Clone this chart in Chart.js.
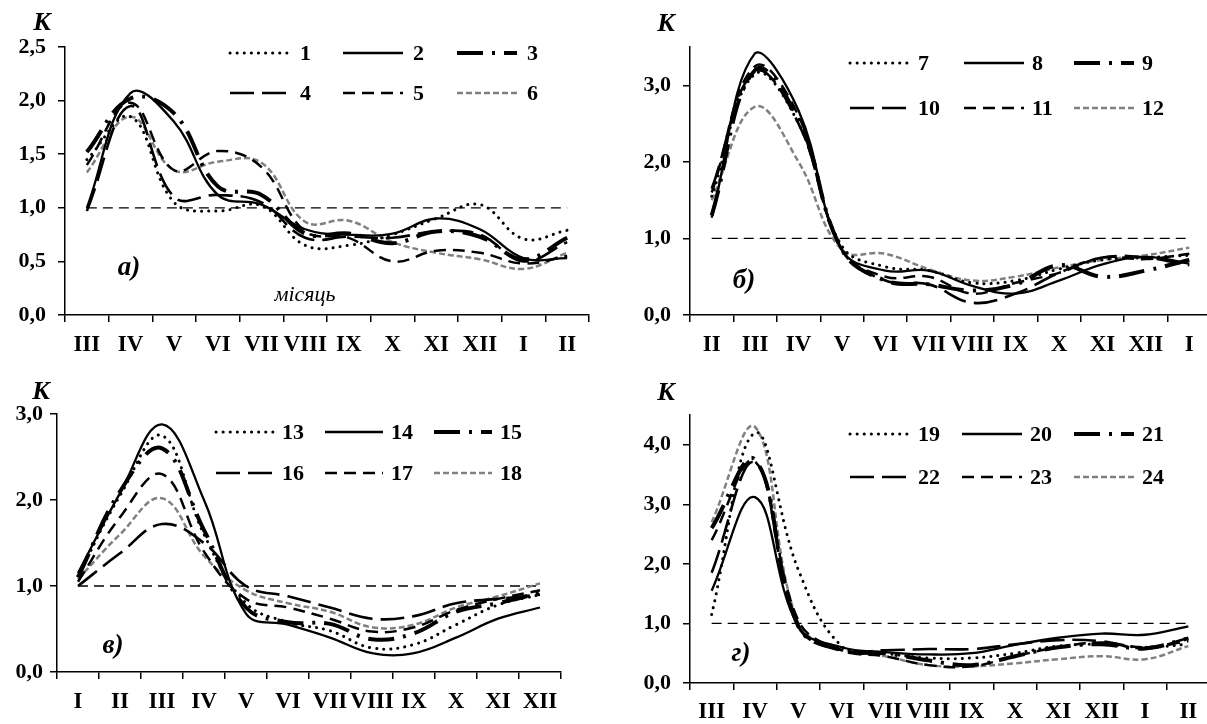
<!DOCTYPE html>
<html>
<head>
<meta charset="utf-8">
<script src="https://cdn.jsdelivr.net/npm/chart.js@4.4.1/dist/chart.umd.min.js"></script>
<style>
body{margin:0;width:1207px;height:724px;overflow:hidden;background:#fff;position:relative;font-family:"Liberation Serif","Times New Roman",serif}
canvas{position:absolute}
.t{position:absolute;font-weight:bold;font-style:italic;font-size:26px;line-height:1;transform:translate(-50%,-50%);white-space:nowrap;color:#000}
.p{font-size:27px}
.m{font-weight:normal;font-size:22px}
</style>
</head>
<body>
<canvas id="chartA" width="600" height="360" style="left:0;top:0"></canvas>
<canvas id="chartB" width="620" height="360" style="left:600px;top:0"></canvas>
<canvas id="chartC" width="600" height="364" style="left:0;top:360px"></canvas>
<canvas id="chartD" width="620" height="364" style="left:600px;top:360px"></canvas>

<div class="t" style="left:42px;top:22px">К</div>
<div class="t" style="left:666px;top:23px">К</div>
<div class="t" style="left:41px;top:391px">К</div>
<div class="t" style="left:666px;top:392px">К</div>
<div class="t p" style="left:129px;top:266px">а)</div>
<div class="t m" style="left:305px;top:294px">місяць</div>
<div class="t p" style="left:744px;top:279px">б)</div>
<div class="t p" style="left:113px;top:644px">в)</div>
<div class="t p" style="left:741px;top:652px">г)</div>

<script>
// months on the x axis of each panel
const monthsA=['III','IV','V','VI','VII','VIII','IX','X','XI','XII','I','II'];
const monthsB=['II','III','IV','V','VI','VII','VIII','IX','X','XI','XII','I'];
const monthsC=['I','II','III','IV','V','VI','VII','VIII','IX','X','XI','XII'];
const monthsD=['III','IV','V','VI','VII','VIII','IX','X','XI','XII','I','II'];

// panel а) series 1..6
const s1=[1.45,1.85,1.05,0.97,1.02,0.65,0.65,0.75,0.90,1.03,0.71,0.79];
const s2=[1.00,2.07,1.80,1.12,1.03,0.80,0.75,0.76,0.90,0.80,0.53,0.53];
const s3=[1.52,2.02,1.88,1.20,1.12,0.76,0.76,0.67,0.78,0.73,0.52,0.72];
const s4=[0.97,1.95,1.10,1.12,1.05,0.72,0.73,0.72,0.78,0.75,0.50,0.68];
const s5=[1.40,1.98,1.35,1.53,1.38,0.78,0.72,0.50,0.60,0.58,0.48,0.55];
const s6=[1.33,1.85,1.35,1.43,1.42,0.87,0.88,0.68,0.58,0.52,0.43,0.58];
// panel б) series 7..12
const s7=[1.55,3.15,2.50,0.90,0.63,0.58,0.42,0.45,0.60,0.72,0.75,0.78];
const s8=[1.27,3.42,2.67,0.85,0.58,0.58,0.38,0.28,0.45,0.66,0.76,0.67];
const s9=[1.30,3.20,2.55,0.85,0.45,0.40,0.32,0.40,0.65,0.50,0.58,0.72];
const s10=[1.65,3.18,2.50,0.85,0.45,0.40,0.16,0.28,0.55,0.75,0.75,0.65];
const s11=[1.60,3.25,2.60,0.85,0.50,0.50,0.28,0.42,0.55,0.75,0.73,0.80];
const s12=[1.50,2.72,2.00,0.85,0.80,0.60,0.45,0.50,0.62,0.72,0.78,0.88];
// panel в) series 13..18
const s13=[1.12,2.05,2.75,1.60,0.80,0.58,0.48,0.28,0.32,0.55,0.78,0.90];
const s14=[1.15,2.08,2.88,2.00,0.68,0.55,0.40,0.22,0.22,0.40,0.62,0.75];
const s15=[1.10,2.10,2.60,1.65,0.75,0.58,0.56,0.38,0.45,0.70,0.80,0.92];
const s16=[1.00,1.38,1.72,1.50,1.00,0.88,0.75,0.62,0.65,0.80,0.85,0.90];
const s17=[1.05,1.80,2.30,1.40,0.85,0.75,0.62,0.47,0.52,0.72,0.85,0.95];
const s18=[1.08,1.60,2.02,1.35,0.95,0.80,0.70,0.52,0.55,0.75,0.88,1.03];
// panel г) series 19..24
const s19=[1.15,4.20,1.90,0.62,0.50,0.42,0.42,0.50,0.62,0.65,0.60,0.65];
const s20=[1.55,3.12,0.95,0.60,0.52,0.48,0.50,0.64,0.76,0.83,0.81,0.95];
const s21=[2.60,3.75,0.95,0.55,0.50,0.38,0.30,0.45,0.60,0.65,0.58,0.75];
const s22=[1.85,3.70,0.95,0.55,0.55,0.57,0.57,0.65,0.72,0.70,0.58,0.75];
const s23=[2.40,3.72,1.05,0.55,0.45,0.30,0.28,0.45,0.60,0.68,0.60,0.70];
const s24=[2.70,4.30,1.00,0.58,0.45,0.30,0.28,0.33,0.40,0.45,0.40,0.62];

const level=1.0; // K = 1 reference line

// line looks, same order in every panel
const looks=[
  {borderColor:'#000',borderWidth:3,borderDash:[0.1,7],borderCapStyle:'round'},
  {borderColor:'#000',borderWidth:2.3,borderDash:[]},
  {borderColor:'#000',borderWidth:4,borderDash:[26,9,3,9]},
  {borderColor:'#000',borderWidth:2.6,borderDash:[24,8]},
  {borderColor:'#000',borderWidth:2.5,borderDash:[12,7]},
  {borderColor:'#808080',borderWidth:2.5,borderDash:[6,3]}
];

const keyPlugin={
  id:'seriesKey',
  afterDraw(chart,args,o){
    const {ctx,chartArea}=chart;
    chart.data.datasets.forEach((ds,i)=>{
      if(i>5) return;
      const x=chartArea.left+o.cols[i%3], y=chartArea.top+o.rows[Math.floor(i/3)];
      ctx.save();
      ctx.strokeStyle=ds.borderColor; ctx.lineWidth=ds.borderWidth;
      ctx.setLineDash(ds.borderDash||[]); ctx.lineCap=ds.borderCapStyle||'butt';
      ctx.beginPath(); ctx.moveTo(x,y); ctx.lineTo(x+o.len,y); ctx.stroke();
      ctx.setLineDash([]);
      ctx.fillStyle='#000'; ctx.font='bold 22px "Liberation Serif"';
      ctx.textBaseline='middle'; ctx.textAlign='left';
      ctx.fillText(ds.label,x+o.gap,y+1);
      ctx.restore();
    });
  }
};

function panel(id,labels,series,names,yMax,box){
  const sets=series.map((d,i)=>Object.assign({label:names[i],data:d,fill:false,pointRadius:0,tension:0.4},looks[i]));
  sets.push({label:'',data:labels.map(()=>level),borderColor:'#000',borderWidth:1.3,borderDash:[10,6],pointRadius:0,fill:false,tension:0});
  const fontX={family:'"Liberation Serif"',size:23,weight:'bold'};
  const fontY={family:'"Liberation Serif"',size:22,weight:'bold'};
  return new Chart(document.getElementById(id),{
    type:'line',
    data:{labels:labels,datasets:sets},
    plugins:[keyPlugin],
    options:{
      responsive:false,animation:false,
      layout:{padding:{left:0,top:box.top,right:box.w-box.right,bottom:0}},
      plugins:{legend:{display:false},tooltip:{enabled:false},seriesKey:box.key},
      scales:{
        x:{offset:true,
           grid:{offset:true,drawOnChartArea:false,drawTicks:true,tickLength:7,color:'#000',lineWidth:1.5},
           border:{display:true,color:'#000',width:1.5},
           ticks:{autoSkip:false,maxRotation:0,color:'#000',font:fontX,padding:box.xPad},
           afterFit:s=>{s.height=box.h-box.bottom;}},
        y:{min:0,max:yMax,
           grid:{drawOnChartArea:false,drawTicks:true,tickLength:7,color:'#000',lineWidth:1.5},
           border:{display:true,color:'#000',width:1.5},
           ticks:{stepSize:box.step,includeBounds:false,color:'#000',font:fontY,padding:box.yPad,
                  callback:v=>v.toFixed(1).replace('.',',')},
           afterFit:s=>{s.width=box.left;}}
      }
    }
  });
}

panel('chartA',monthsA,[s1,s2,s3,s4,s5,s6],['1','2','3','4','5','6'],2.5,
  {w:600,h:360,left:65,right:589,top:47,bottom:315,step:0.5,xPad:9,yPad:12,
   key:{cols:[165,278,392],rows:[6,46],len:60,gap:70}});
panel('chartB',monthsB,[s7,s8,s9,s10,s11,s12],['7','8','9','10','11','12'],3.5,
  {w:620,h:360,left:90,right:611,top:47,bottom:315,step:1,xPad:9,yPad:12,
   key:{cols:[160,274,384],rows:[16,61],len:60,gap:68}});
panel('chartC',monthsC,[s13,s14,s15,s16,s17,s18],['13','14','15','16','17','18'],3.0,
  {w:600,h:364,left:57,right:561,top:54,bottom:312,step:1,xPad:9,yPad:7,
   key:{cols:[159,268,377],rows:[18,59],len:58,gap:66}});
panel('chartD',monthsD,[s19,s20,s21,s22,s23,s24],['19','20','21','22','23','24'],4.5,
  {w:620,h:364,left:90,right:610,top:55,bottom:323,step:1,xPad:8,yPad:12,
   key:{cols:[160,272,384],rows:[19,62],len:60,gap:68}});
</script>
</body>
</html>
